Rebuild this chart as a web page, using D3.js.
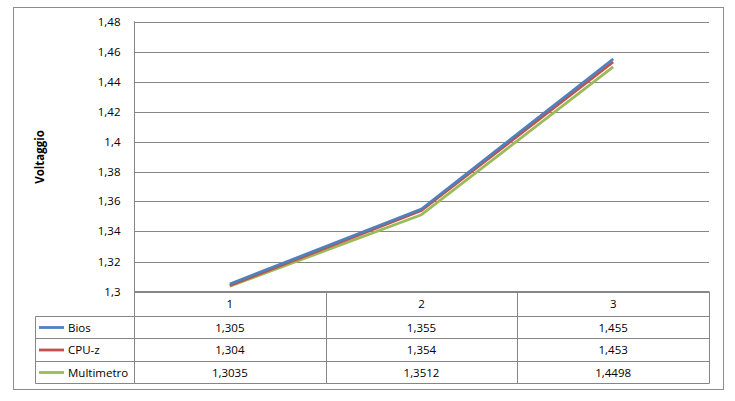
<!DOCTYPE html>
<html><head><meta charset="utf-8">
<script src="https://cdn.jsdelivr.net/npm/d3@7"></script>
<style>body{margin:0;background:#fff}svg{display:block}text{font-family:"Open Sans","DejaVu Sans",sans-serif}</style>
</head><body><svg id="c" width="735" height="401"></svg>
<script>
const categories = ["1","2","3"];
const seriesNames = ["Bios","CPU-z","Multimetro"];
const bios = [1.305,1.355,1.455];
const cpuz = [1.304,1.354,1.453];
const multimetro = [1.3035,1.3512,1.4498];
const bioslabels = ["1,305","1,355","1,455"];
const cpuzlabels = ["1,304","1,354","1,453"];
const multimetrolabels = ["1,3035","1,3512","1,4498"];
const yTicks = [1.3,1.32,1.34,1.36,1.38,1.4,1.42,1.44,1.46,1.48];
const colors = ["#4F81BD","#C0504D","#9BBB59"];

const series = [
  {name: seriesNames[0], values: bios, labels: bioslabels, color: colors[0]},
  {name: seriesNames[1], values: cpuz, labels: cpuzlabels, color: colors[1]},
  {name: seriesNames[2], values: multimetro, labels: multimetrolabels, color: colors[2]}
];

const svg = d3.select("#c");
const L = 134, R = 709, T = 21.5, B = 291.5;
const gridColor = "#868686";

svg.append("rect").attr("x",13.5).attr("y",7.5).attr("width",710).attr("height",382)
  .attr("fill","#fff").attr("stroke","#8c8c8c").attr("stroke-width",1);

const x = d3.scaleBand().domain(categories).range([L,R]).padding(0);
const y = d3.scaleLinear().domain([1.3,1.48]).range([B,T]);

// gridlines
svg.append("g").selectAll("line").data(yTicks).join("line")
  .attr("x1",L).attr("x2",R).attr("y1",d=>Math.round(y(d))+0.5).attr("y2",d=>Math.round(y(d))+0.5)
  .attr("stroke",gridColor).attr("stroke-width",1);

// y axis
const ya = svg.append("g").attr("transform",`translate(${L+0.5},0)`)
  .call(d3.axisLeft(y).tickValues(yTicks).tickSize(0).tickPadding(14).tickFormat(d=>d3.format(".2~f")(d).replace(".",",")));
ya.select(".domain").attr("stroke",gridColor).attr("d",`M0,${T}V${B+25}`);
ya.selectAll(".tick line").remove();
ya.selectAll(".tick text").attr("font-size",11.5).attr("fill","#000").attr("font-family","'Open Sans',sans-serif");
ya.selectAll(".tick").attr("transform",d=>`translate(0,${Math.round(y(d))+0.5})`);

// y title
svg.append("text").attr("transform","translate(44,157) rotate(-90)").attr("text-anchor","middle")
  .attr("font-size",11.5).attr("font-weight","bold").text("Voltaggio");

// lines
const line = d3.line().x((d,i)=>x(categories[i])+x.bandwidth()/2).y(d=>y(d));
svg.append("g").selectAll("path").data(series.slice().reverse()).join("path")
  .attr("d",d=>line(d.values)).attr("fill","none").attr("stroke",d=>d.color).attr("stroke-width",2.8)
  .attr("stroke-linejoin","round");

// data table
const rowTops = [291.5, 316.5, 338.5, 361.5, 383.5];
const tL = 35.5;
const tg = svg.append("g");
tg.append("line").attr("x1",L+0.5).attr("x2",R).attr("y1",rowTops[0]).attr("y2",rowTops[0]).attr("stroke",gridColor);
[1,2,3,4].forEach(i=>{
  tg.append("line").attr("x1",tL).attr("x2",R+0.5).attr("y1",rowTops[i]).attr("y2",rowTops[i]).attr("stroke",gridColor);
});
tg.append("line").attr("x1",tL).attr("x2",tL).attr("y1",rowTops[1]).attr("y2",rowTops[4]).attr("stroke",gridColor);
const colEdges = categories.map(c=>x(c)).concat([R]);
colEdges.forEach((xe,i)=>{
  tg.append("line").attr("x1",Math.round(xe)+0.5).attr("x2",Math.round(xe)+0.5)
    .attr("y1",i===0?T:rowTops[0]).attr("y2",rowTops[4]).attr("stroke",gridColor);
});
tg.selectAll("text.cat").data(categories).join("text").attr("class","cat")
  .attr("x",d=>x(d)+x.bandwidth()/2).attr("y",(rowTops[0]+rowTops[1])/2+4)
  .attr("text-anchor","middle").attr("font-size",11.5).text(d=>d);
series.forEach((s,si)=>{
  const yc = (rowTops[si+1]+rowTops[si+2])/2;
  tg.append("line").attr("x1",39).attr("x2",64).attr("y1",yc).attr("y2",yc)
    .attr("stroke",s.color).attr("stroke-width",2.8);
  tg.append("text").attr("x",68).attr("y",yc+4).attr("font-size",11.5).text(s.name);
  tg.selectAll(null).data(s.labels).join("text")
    .attr("x",(d,i)=>x(categories[i])+x.bandwidth()/2).attr("y",yc+4)
    .attr("text-anchor","middle").attr("font-size",11.5).text(d=>d);
});
</script></body></html>
